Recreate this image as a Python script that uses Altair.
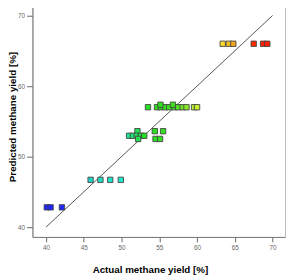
import altair as alt
import pandas as pd

# Actual vs predicted methane yield [%]
actual = [40.1, 40.6, 42.1,
          45.9, 47.2, 48.5, 49.9,
          52.1, 54.4, 55.5,
          51.0, 51.5, 52.0, 52.55, 53.0,
          52.2, 54.5, 55.1,
          53.5, 54.7, 55.2, 55.75, 56.3, 57.0, 57.5, 58.1, 58.6, 59.6, 60.0,
          55.15, 56.8,
          63.4, 64.2, 64.8, 67.5, 68.75, 69.3]
predicted = [42.8, 42.8, 42.8,
             46.7, 46.7, 46.7, 46.7,
             53.6, 53.6, 53.6,
             52.95, 52.95, 52.95, 52.95, 52.95,
             52.5, 52.5, 52.5,
             57.0, 57.0, 57.0, 57.0, 57.0, 57.0, 57.0, 57.0, 57.0, 57.0, 57.0,
             57.35, 57.35,
             66.0, 66.0, 66.0, 66.0, 66.0, 66.0]

line_x = [40, 70]
line_y = [40, 70]

tick_values = [40, 45, 50, 55, 60, 65, 70]

color_domain = [40, 43, 46, 50, 53, 57, 60, 63.5, 65, 67.5, 70]
color_range = ["#2020ff", "#2030f0", "#20d8c0", "#20e8c8", "#22e022", "#40e020",
               "#c8f030", "#f8d830", "#f0a018", "#ff2a00", "#ff1a00"]

pts = pd.DataFrame({"actual": actual, "predicted": predicted})
ln = pd.DataFrame({"x": line_x, "y": line_y})

xscale = alt.Scale(domain=[38.2, 71.65], nice=False, zero=False)
yscale = alt.Scale(domain=[38.6, 71.5], nice=False, zero=False)

xaxis = alt.Axis(values=tick_values, title="Actual methane yield [%]", grid=False,
                 titleX=120, titleY=33, titleBaseline="middle", titleAlign="center")
yaxis = alt.Axis(values=tick_values, title="Predicted methane yield [%]", grid=False,
                 titleX=-20, titleY=114, titleBaseline="middle", titleAlign="center",
                 titleAngle=270)

line = alt.Chart(ln).mark_line(color="#555555", strokeWidth=1).encode(
    x=alt.X("x:Q", scale=xscale, axis=xaxis),
    y=alt.Y("y:Q", scale=yscale, axis=yaxis),
)

points = alt.Chart(pts).mark_point(shape="square", filled=True, size=30,
                                   stroke="#444444", strokeWidth=0.9, opacity=1).encode(
    x=alt.X("actual:Q", scale=xscale),
    y=alt.Y("predicted:Q", scale=yscale),
    color=alt.Color("actual:Q", scale=alt.Scale(domain=color_domain, range=color_range,
                                                 interpolate="rgb"), legend=None),
)

chart = alt.layer(line, points).properties(
    width=258, height=237,
    autosize=alt.AutoSizeParams(type="none"),
    padding={"left": 25, "top": -6, "right": 1, "bottom": 38},
).configure_view(
    stroke="#bbbbbb", strokeWidth=1
).configure_axis(
    domainColor="#777777", domainWidth=1,
    tickColor="#666666", tickSize=5, tickWidth=1,
    labelFont="Liberation Sans", labelFontSize=6.5, labelColor="#666666",
    labelPadding=3,
    titleFont="Liberation Sans", titleFontSize=10, titleFontWeight="bold",
    titleColor="#000000",
).configure_axisLeft(
    tickSize=6, labelPadding=2
)

chart.save("out.html", embed_options={"renderer": "svg", "actions": False})
